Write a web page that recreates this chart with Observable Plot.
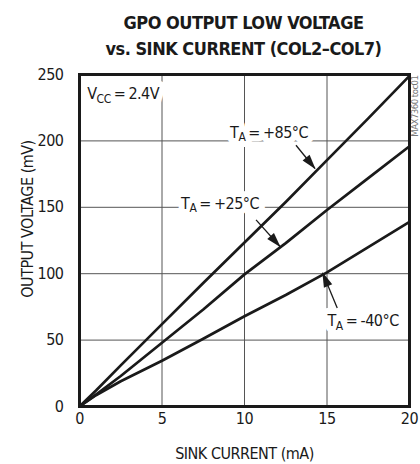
<!DOCTYPE html>
<html><head><meta charset="utf-8">
<script src="https://cdn.jsdelivr.net/npm/d3@7"></script>
<script src="https://cdn.jsdelivr.net/npm/@observablehq/plot@0.6"></script>
<style>
body{margin:0;background:#fff;}
#title{width:420px;box-sizing:border-box;padding:10px 0 0 67px;height:62px;text-align:center;
font-family:"DejaVu Sans Condensed","DejaVu Sans",sans-serif;font-stretch:condensed;font-weight:bold;font-size:18px;line-height:26px;letter-spacing:-0.5px;color:#1a1a1a;}
</style></head><body>
<div id="title">GPO OUTPUT LOW VOLTAGE<br>vs. SINK CURRENT (COL2–COL7)</div>
<div id="chart"></div>
<script>
// ---- data ----
const current = [0, 1, 2.5, 5, 7.5, 10, 12.5, 15, 17.5, 20];           // mA
const v85  = [0, 12, 31, 62, 93, 123.5, 154, 185.5, 217, 249];          // mV, TA = +85°C
const v25  = [0, 9, 23, 48, 73, 99.5, 123, 148, 172, 196];              // mV, TA = +25°C
const vm40 = [0, 8.5, 19, 34.5, 51, 68, 84, 101, 120, 139];             // mV, TA = -40°C
const seriesNames = ["T_A = +85°C", "T_A = +25°C", "T_A = -40°C"];
const xTicks = [0, 5, 10, 15, 20];
const yTicks = [0, 50, 100, 150, 200, 250];
const xGrid = [5, 10, 15];
const yGrid = [50, 100, 150, 200];
const xLabel = "SINK CURRENT (mA)";
const yLabel = "OUTPUT VOLTAGE (mV)";
const condLabel = "V_CC = 2.4V";
const tocLabel = "MAX7360 toc01";
// annotation anchors (data units)
const condAt = [0.47, 231.2];
const seriesLabelX = [11.49, 8.52, 17.19];
const seriesLabelY = [202.2, 148.7, 60.5];
const arrowFrom = [[13.12, 196.7], [10.70, 140.5], [15.62, 74.2]];
const arrowTo   = [[14.27, 179.2], [12.15, 120.5], [14.74, 100.5]];

// ---- tables built from the arrays ----
const values = [v85, v25, vm40];
const table = seriesNames.flatMap((s, i) => current.map((c, j) => ({series: s, current: c, voltage: values[i][j]})));
const labels = seriesNames.map((s, i) => ({text: s, x: seriesLabelX[i], y: seriesLabelY[i]}));
const arrows = arrowFrom.map((f, i) => ({x1: f[0], y1: f[1], x2: arrowTo[i][0], y2: arrowTo[i][1]}));

const FONT = '"DejaVu Sans Condensed","DejaVu Sans",sans-serif';
const INK = "#1a1a1a";
const base = {fontSize: 16, lineAnchor: "bottom"};
const halo = {...base, stroke: "white", strokeWidth: 12, strokeLinejoin: "round", fill: "white"};
const ink = {...base, fill: INK};

const svg = Plot.plot({
  width: 420, height: 402,
  marginTop: 12, marginRight: 11, marginBottom: 58, marginLeft: 79,
  style: {fontFamily: FONT, fontSize: "16px", fontStretch: "condensed", letterSpacing: "-0.5px", color: INK, background: "#fff"},
  x: {domain: [0, 20], ticks: xTicks, tickSize: 0, tickPadding: 6, label: null},
  y: {domain: [0, 250], ticks: yTicks, tickSize: 0, tickPadding: 16, label: null},
  marks: [
    Plot.ruleX(xGrid, {stroke: "#555", strokeWidth: 1}),
    Plot.ruleY(yGrid, {stroke: "#555", strokeWidth: 1}),
    // white knock-out behind the labels (breaks the grid like the original)
    Plot.text([condLabel], {...halo, x: () => condAt[0], y: () => condAt[1], textAnchor: "start"}),
    Plot.text(labels, {...halo, x: "x", y: "y", text: "text", textAnchor: "middle"}),
    // the labels themselves
    Plot.text([condLabel], {...ink, x: () => condAt[0], y: () => condAt[1], textAnchor: "start"}),
    Plot.text(labels, {...ink, x: "x", y: "y", text: "text", textAnchor: "middle"}),
    Plot.line(table, {x: "current", y: "voltage", z: "series", stroke: INK, strokeWidth: 2.7, strokeLinejoin: "round"}),
    Plot.link(arrows, {x1: "x1", y1: "y1", x2: "x2", y2: "y2", stroke: INK, strokeWidth: 1.3, markerEnd: "arrow"}),
    Plot.text([yLabel], {frameAnchor: "left", rotate: -90, dx: -47, dy: -21.5, lineAnchor: "bottom", textAnchor: "middle", fill: INK}),
    Plot.text([xLabel], {frameAnchor: "bottom", dy: 52.3, lineAnchor: "bottom", textAnchor: "middle", fill: INK}),
    Plot.text([tocLabel], {frameAnchor: "top-right", rotate: -90, dx: 5.5, dy: 1, lineAnchor: "middle", textAnchor: "end", fontSize: 9.5, fill: "#777", letterSpacing: "0px"}),
    Plot.frame({stroke: INK, strokeWidth: 3})
  ]
});

// subscripts (T_A, V_CC) as real tspans
svg.querySelectorAll("text").forEach(t => {
  if (t.children.length) return;
  const m = t.textContent.match(/^(.)_(\S+)(.*)$/);
  if (!m) return;
  t.textContent = "";
  const ns = "http://www.w3.org/2000/svg";
  const a = document.createElementNS(ns, "tspan"); a.textContent = m[1];
  const b = document.createElementNS(ns, "tspan"); b.textContent = m[2];
  b.setAttribute("dy", "0.28em"); b.setAttribute("font-size", "0.75em");
  const c = document.createElementNS(ns, "tspan"); c.textContent = m[3];
  c.setAttribute("dy", "-0.21em");
  c.setAttribute("word-spacing", "-1px");
  t.append(a, b, c);
});
// filled arrowheads
svg.querySelectorAll("marker").forEach(mk => {
  const col = mk.getAttribute("stroke") || INK;
  mk.setAttribute("viewBox", "-16 -6 18 12");
  mk.setAttribute("markerUnits", "userSpaceOnUse");
  mk.setAttribute("markerWidth", 18);
  mk.setAttribute("markerHeight", 12);
  mk.setAttribute("overflow", "visible");
  mk.setAttribute("fill", col);
  mk.setAttribute("stroke", "none");
  const p = mk.querySelector("path");
  if (p) p.setAttribute("d", "M-14,-4.5L1,0L-14,4.5Z");
});
document.getElementById("chart").appendChild(svg);
</script>
</body></html>
